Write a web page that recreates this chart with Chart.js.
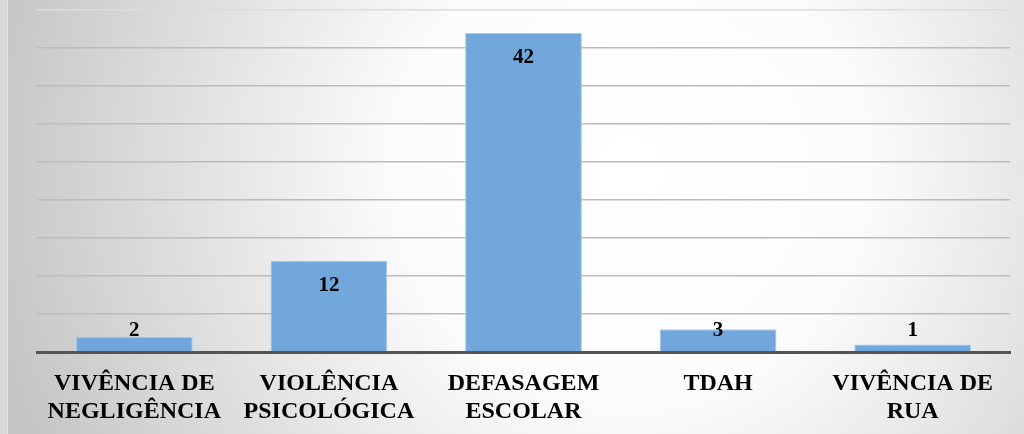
<!DOCTYPE html>
<html>
<head>
<meta charset="utf-8">
<style>
  html, body { margin: 0; padding: 0; background: #d6d6d6; }
  #wrap { width: 1024px; height: 434px; }
</style>
<script src="https://cdn.jsdelivr.net/npm/chart.js@4/dist/chart.umd.min.js"></script>
</head>
<body>
<div id="wrap"><canvas id="chart" width="1024" height="434"></canvas></div>
<script>
const categories = [
  ["VIVÊNCIA DE", "NEGLIGÊNCIA"],
  ["VIOLÊNCIA", "PSICOLÓGICA"],
  ["DEFASAGEM", "ESCOLAR"],
  ["TDAH"],
  ["VIVÊNCIA DE", "RUA"]
];
const values = [2, 12, 42, 3, 1];
const yMax = 45;
const yStep = 5;

const serif = "Liberation Serif, Times New Roman, serif";

const backdrop = {
  id: "backdrop",
  beforeDraw(chart) {
    const ctx = chart.ctx;
    ctx.save();
    ctx.fillStyle = "#d8d8d8";
    ctx.fillRect(0, 0, chart.width, chart.height);
    const g = ctx.createRadialGradient(630, 170, 0, 630, 170, 660);
    g.addColorStop(0, "#ffffff");
    g.addColorStop(0.35, "#fcfcfc");
    g.addColorStop(1, "#c4c4c4");
    ctx.fillStyle = g;
    ctx.fillRect(8, 0, chart.width - 8, chart.height);
    ctx.fillStyle = "#e4e4e4";
    ctx.fillRect(7, 0, 1, chart.height);
    ctx.restore();
  }
};

const barLabels = {
  id: "barLabels",
  afterDatasetsDraw(chart) {
    const ctx = chart.ctx;
    const meta = chart.getDatasetMeta(0);
    const base = chart.scales.y.getPixelForValue(0);
    ctx.save();
    ctx.font = "bold 21px " + serif;
    ctx.fillStyle = "#000";
    ctx.textAlign = "center";
    ctx.textBaseline = "middle";
    meta.data.forEach((bar, i) => {
      const y = Math.min(bar.y + 25, base - 21);
      ctx.fillText(String(values[i]), bar.x, y);
    });
    ctx.restore();
  }
};

new Chart(document.getElementById("chart"), {
  type: "bar",
  data: {
    labels: categories,
    datasets: [{
      data: values,
      backgroundColor: "rgba(108, 164, 218, 0.97)",
      borderColor: "#a9c9ea",
      borderWidth: 1,
      categoryPercentage: 0.6,
      barPercentage: 1.0
    }]
  },
  options: {
    responsive: false,
    animation: false,
    layout: { padding: { left: 37, right: 14, top: 10, bottom: 0 } },
    plugins: {
      legend: { display: false },
      title: { display: false },
      tooltip: { enabled: false }
    },
    scales: {
      y: {
        min: 0,
        max: yMax,
        ticks: { display: false, stepSize: yStep },
        border: { display: false },
        grid: {
          drawTicks: false,
          lineWidth: 1.5,
          color: (c) => c.tick && c.tick.value === 0 ? "rgba(0,0,0,0)" :
            (c.tick && c.tick.value === yMax ? "#dcdcdc" : "#bcbcbc")
        },
        afterFit(scale) { scale.width = 0; }
      },
      x: {
        grid: { display: false, drawTicks: false },
        border: { display: true, color: "#545454", width: 3 },
        ticks: {
          color: "#000",
          padding: 18,
          maxRotation: 0,
          autoSkip: false,
          font: { family: serif, size: 24, weight: "bold", lineHeight: 1.15 }
        },
        afterFit(scale) { scale.height = 82; }
      }
    }
  },
  plugins: [backdrop, barLabels]
});
</script>
</body>
</html>
